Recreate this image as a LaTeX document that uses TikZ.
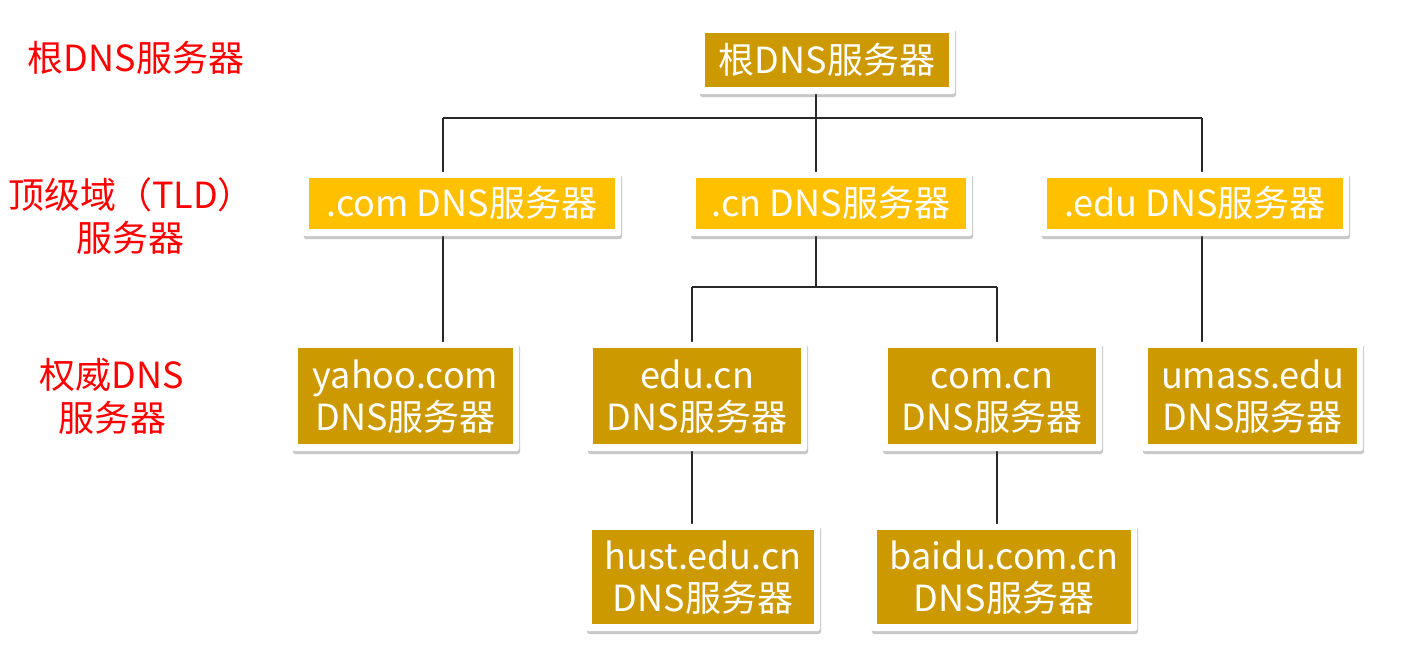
\documentclass[tikz,border=0pt]{standalone}
\usepackage{fontspec}
\newfontfamily\cjk{Noto Sans CJK SC}
\usetikzlibrary{shadows}
\definecolor{gold}{RGB}{204,153,0}
\definecolor{amber}{RGB}{255,192,0}
\definecolor{lab}{RGB}{255,0,0}
\definecolor{lin}{RGB}{40,40,40}
\newcommand\bstrut{\rule[-5pt]{0pt}{37pt}}
\pgfdeclarelayer{bg}
\pgfdeclarelayer{lines}
\pgfdeclarelayer{frames}
\pgfsetlayers{bg,lines,frames,main}
\tikzset{
  boxbase/.style={rectangle, inner sep=0pt, text=white, align=center,
    font=\cjk\fontsize{36}{42}\selectfont},
  goldbox/.style={boxbase, fill=gold, minimum height=96pt},
  ambox/.style={boxbase, fill=amber, minimum height=51pt},
  framebox/.style={fill=white, rounded corners=3pt,
    drop shadow={shadow xshift=1pt, shadow yshift=-3pt, opacity=0.3, fill=black!70}},
  conn/.style={draw=lin, line width=1.3pt},
  label/.style={text=lab, align=center, font=\cjk\fontsize{36}{43}\selectfont}
}
\begin{document}
\begin{tikzpicture}[x=1pt,y=-1pt]
\begin{pgfonlayer}{bg}
\fill[white] (0,0) rectangle (1401,652);
\end{pgfonlayer}
\useasboundingbox (0,0) rectangle (1401,652);

% left labels
\node[label] (l1) at (136,58) {根DNS服务器};
\node[label] (l2) at (131,216) {顶级域（TLD）\\服务器};
\node[label] (l3) at (112,396) {权威DNS\\服务器};

% boxes
\node[goldbox, minimum width=244pt, minimum height=54pt] (root) at (827,60) {\bstrut 根DNS服务器};
\node[ambox, minimum width=306pt] (com) at (462,203.5) {\bstrut .com DNS服务器};
\node[ambox, minimum width=270pt] (cn) at (831,203.5) {\bstrut .cn DNS服务器};
\node[ambox, minimum width=296pt] (edu) at (1195,203.5) {\bstrut .edu DNS服务器};
\node[goldbox, minimum width=215pt] (yahoo) at (405.5,396) {\bstrut yahoo.com\\\bstrut DNS服务器};
\node[goldbox, minimum width=208pt] (educn) at (697,396) {\bstrut edu.cn\\\bstrut DNS服务器};
\node[goldbox, minimum width=208pt] (comcn) at (992,396) {\bstrut com.cn\\\bstrut DNS服务器};
\node[goldbox, minimum width=209pt] (umass) at (1252.5,396) {\bstrut umass.edu\\\bstrut DNS服务器};
\node[goldbox, minimum width=222pt, minimum height=94pt] (hust) at (703,577) {\bstrut hust.edu.cn\\\bstrut DNS服务器};
\node[goldbox, minimum width=254pt, minimum height=94pt] (baidu) at (1004,577) {\bstrut baidu.com.cn\\\bstrut DNS服务器};

% frames
\begin{pgfonlayer}{frames}
\foreach \n in {root,com,cn,edu,yahoo,educn,comcn,umass,hust,baidu}
  \fill[framebox] ([xshift=-6pt,yshift=-7pt]\n.south west) rectangle ([xshift=6pt,yshift=6pt]\n.north east);
\end{pgfonlayer}

% connectors
\begin{pgfonlayer}{lines}
\coordinate (t1) at (816,118);
\coordinate (a) at (443,118);
\coordinate (b) at (1202,118);
\coordinate (c) at (816,287);
\coordinate (c1) at (692,287);
\coordinate (c2) at (997,287);
\draw[conn] (t1 |- root.south) -- (t1);
\draw[conn] (a) -- (b);
\draw[conn] (a) -- (a |- com.north);
\draw[conn] (t1) -- (t1 |- cn.north);
\draw[conn] (b) -- (b |- edu.north);
\draw[conn] (a |- com.south) -- (a |- yahoo.north);
\draw[conn] (c |- cn.south) -- (c);
\draw[conn] (c1) -- (c2);
\draw[conn] (c1) -- (c1 |- educn.north);
\draw[conn] (c2) -- (c2 |- comcn.north);
\draw[conn] (b |- edu.south) -- (b |- umass.north);
\draw[conn] (c1 |- educn.south) -- (c1 |- hust.north);
\draw[conn] (c2 |- comcn.south) -- (c2 |- baidu.north);
\end{pgfonlayer}
\end{tikzpicture}
\end{document}
